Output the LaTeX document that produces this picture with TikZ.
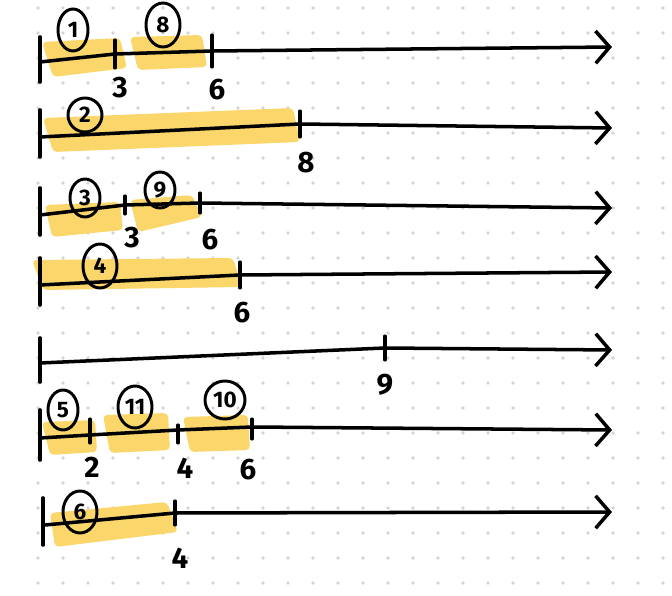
\documentclass[tikz,border=0pt]{standalone}
\usepackage{fontspec}
\setmainfont{Fira Sans}
\usetikzlibrary{arrows.meta,shapes.geometric}
\definecolor{marker}{RGB}{250,214,107}
\definecolor{griddot}{RGB}{212,212,212}

\begin{document}
\begin{tikzpicture}[x=0.025cm, y=-0.025cm,
        axis/.style={draw, line width=2.5pt, line cap=round, line join=round, -{Straight Barb[length=10pt, width=23pt, line width=2.5pt]}},
        bar/.style={draw, line width=2.6pt, line cap=round},
        tick/.style={draw, line width=2.2pt, line cap=round},
        hilite/.style={fill=marker, rounded corners=3pt},
        num/.style={font=\fontsize{21}{21}\selectfont\bfseries, inner sep=0pt},
        job/.style={ellipse, draw, line width=2.1pt, inner sep=0pt, minimum width=0.78cm, minimum height=1cm, font=\fontsize{16}{16}\selectfont\bfseries}]

    \useasboundingbox (0,0) rectangle (672,596);

    % dot grid
    \foreach \i in {0,...,25}
        \foreach \j in {0,...,23}
            \fill[griddot] (38+25*\i, 8+25*\j) circle (1.4pt);

    % row 1
    \fill[hilite] (42,42) -- (120,38) -- (127,68) -- (53,77) -- cycle;
    \fill[hilite] (130,37) -- (202,35) -- (207,67) -- (138,70) -- cycle;
    \coordinate (s1) at (40,62);
    \coordinate (t13) at (115,54);
    \coordinate (t16) at (212,51);
    \coordinate (e1) at (612,47);
    \draw[bar] (40,37) -- (40,82);
    \path[axis] (s1) -- (t13) -- (t16) -- (e1);
    \draw[tick] (t13) ++(0,-14) -- ++(0,28);
    \draw[tick] (t16) ++(0,-16) -- ++(0,32);
    \node[num] (l13) at (120,88) {3};
    \node[num] (l16) at (217,90) {6};
    \node[job, minimum width=0.75cm, minimum height=1.05cm] (j1) at (73,30) {1};
    \node[job, minimum width=0.85cm, minimum height=1.1cm] (j8) at (163,25) {8};

    % row 2
    \fill[hilite] (43,118) -- (293,108) -- (300,142) -- (53,152) -- cycle;
    \coordinate (s2) at (40,137);
    \coordinate (t28) at (300,124);
    \coordinate (e2) at (612,128);
    \draw[bar] (40,110) -- (40,157);
    \path[axis] (s2) -- (t28) -- (e2);
    \draw[tick] (t28) ++(0,-13) -- ++(0,26);
    \node[num] (l28) at (306,163) {8};
    \node[job, minimum width=0.85cm, minimum height=0.85cm] (j2) at (85,115) {2};

    % row 3
    \fill[hilite] (45,205) -- (120,202) -- (123,230) -- (52,237) -- cycle;
    \fill[hilite] (130,200) -- (192,195) -- (202,217) -- (138,232) -- cycle;
    \coordinate (s3) at (40,215);
    \coordinate (t33) at (125,205);
    \coordinate (t36) at (200,203);
    \coordinate (e3) at (612,208);
    \draw[bar] (40,188) -- (40,235);
    \path[axis] (s3) -- (t33) -- (t36) -- (e3);
    \draw[tick] (t33) ++(0,-9) -- ++(0,18);
    \draw[tick] (t36) ++(0,-10) -- ++(0,20);
    \node[num] (l33) at (132,238) {3};
    \node[num] (l36) at (210,240) {6};
    \node[job, minimum width=0.75cm, minimum height=0.95cm] (j3) at (85,198) {3};
    \node[job, minimum width=0.75cm, minimum height=0.9cm] (j9) at (160,190) {9};

    % row 4
    \fill[hilite] (32,260) -- (233,258) -- (242,287) -- (43,290) -- cycle;
    \coordinate (s4) at (40,285);
    \coordinate (t46) at (240,275);
    \coordinate (e4) at (612,272);
    \draw[bar] (40,258) -- (40,305);
    \path[axis] (s4) -- (t46) -- (e4);
    \draw[tick] (t46) ++(0,-13) -- ++(0,26);
    \node[num] (l46) at (242,313) {6};
    \node[job, minimum width=0.85cm, minimum height=1.1cm] (j4) at (100,266) {4};

    % row 5
    \coordinate (s5) at (40,363);
    \coordinate (t59) at (385,348);
    \coordinate (e5) at (612,350);
    \draw[bar] (40,338) -- (40,382);
    \path[axis] (s5) -- (t59) -- (e5);
    \draw[tick] (t59) ++(0,-12) -- ++(0,24);
    \node[num] (l59) at (385,385) {9};

    % row 6
    \fill[hilite] (42,422) -- (95,420) -- (97,452) -- (50,455) -- cycle;
    \fill[hilite] (103,415) -- (168,413) -- (170,450) -- (110,453) -- cycle;
    \fill[hilite] (183,417) -- (248,415) -- (250,450) -- (190,452) -- cycle;
    \coordinate (s6) at (40,438);
    \coordinate (t62) at (90,435);
    \coordinate (t64) at (178,430);
    \coordinate (t66) at (252,427);
    \coordinate (e6) at (612,430);
    \draw[bar] (40,410) -- (40,460);
    \path[axis] (s6) -- (t62) -- (t64) -- (t66) -- (e6);
    \draw[tick] (t62) ++(0,-16) -- ++(0,24);
    \draw[tick] (t64) ++(0,-5) -- ++(0,18);
    \draw[tick] (t66) ++(0,-8) -- ++(0,20);
    \node[num] (l62) at (92,467) {2};
    \node[num] (l64) at (185,468) {4};
    \node[num] (l66) at (248,470) {6};
    \node[job, minimum width=0.75cm, minimum height=1cm] (j5) at (63,410) {5};
    \node[job, minimum width=0.85cm, minimum height=1.05cm] (j11) at (135,407) {11};
    \node[job, minimum width=1cm, minimum height=0.95cm] (j10) at (225,400) {10};

    % row 7
    \fill[hilite] (50,513) -- (167,502) -- (178,532) -- (55,547) -- cycle;
    \coordinate (s7) at (45,525);
    \coordinate (t74) at (175,513);
    \coordinate (e7) at (612,512);
    \draw[bar] (43,498) -- (43,545);
    \path[axis] (s7) -- (t74) -- (e7);
    \draw[tick] (t74) ++(0,-12) -- ++(0,24);
    \node[num] (l74) at (180,558) {4};
    \node[job, minimum width=0.85cm, minimum height=1.05cm] (j6) at (80,512) {6};
\end{tikzpicture}
\end{document}
